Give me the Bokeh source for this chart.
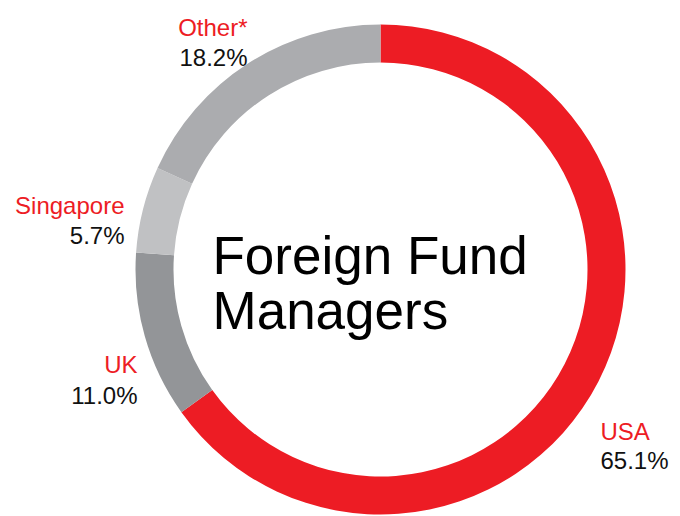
import math
from bokeh.plotting import figure
from bokeh.models import Range1d, ColumnDataSource
from bokeh.core.properties import value
from bokeh.embed import file_html
from bokeh.resources import INLINE

# Data
categories = ["USA", "UK", "Singapore", "Other*"]
shares = [65.1, 11.0, 5.7, 18.2]
share_labels = ["65.1%", "11.0%", "5.7%", "18.2%"]
colors = ["#ED1C24", "#939598", "#C0C1C3", "#ABACAF"]
title_lines = ["Foreign Fund", "Managers"]

W, H = 680, 516
p = figure(width=W, height=H, output_backend="svg", toolbar_location=None,
           x_range=Range1d(0, W), y_range=Range1d(0, H),
           min_border=0, outline_line_color=None)
p.axis.visible = False
p.grid.visible = False
p.background_fill_color = "white"
p.border_fill_color = "white"

# page y (from top) -> data y
def Y(py):
    return H - py

cx, cy = 380, Y(269)
r_out, r_in = 245, 207

total = sum(shares)
starts, ends = [], []
acc = 0.0
for s in shares:
    starts.append(math.pi / 2 - 2 * math.pi * acc / total)
    acc += s
    ends.append(math.pi / 2 - 2 * math.pi * acc / total)

src = ColumnDataSource(dict(start=starts, end=ends, color=colors, cat=categories))
p.annular_wedge(x=cx, y=cy, inner_radius=r_in, outer_radius=r_out,
                start_angle="start", end_angle="end", direction="clock",
                fill_color="color", line_color=None, source=src)

font = value("Liberation Sans")

# label positions (layout only)
pos = {
    "USA": (600, 431, 460, "left"),
    "UK": (137, 364, 395, "right"),
    "Singapore": (124, 205, 235, "right"),
    "Other*": (247, 27, 57, "right"),
}
for cat, lab in zip(categories, share_labels):
    x, b1, b2, align = pos[cat]
    p.text(x=[x], y=[Y(b1)], text=[cat], text_font=font, text_font_size="24px",
           text_color="#ED1C24", text_align=align, text_baseline="alphabetic")
    p.text(x=[x], y=[Y(b2)], text=[lab], text_font=font, text_font_size="24px",
           text_color="#111111", text_align=align, text_baseline="alphabetic")

for line, b in zip(title_lines, [255, 310]):
    p.text(x=[212], y=[Y(b)], text=[line], text_font=font, text_font_size="53px",
           text_color="#000000", text_align="left", text_baseline="alphabetic")

open("out.html", "w").write(file_html(p, INLINE))
